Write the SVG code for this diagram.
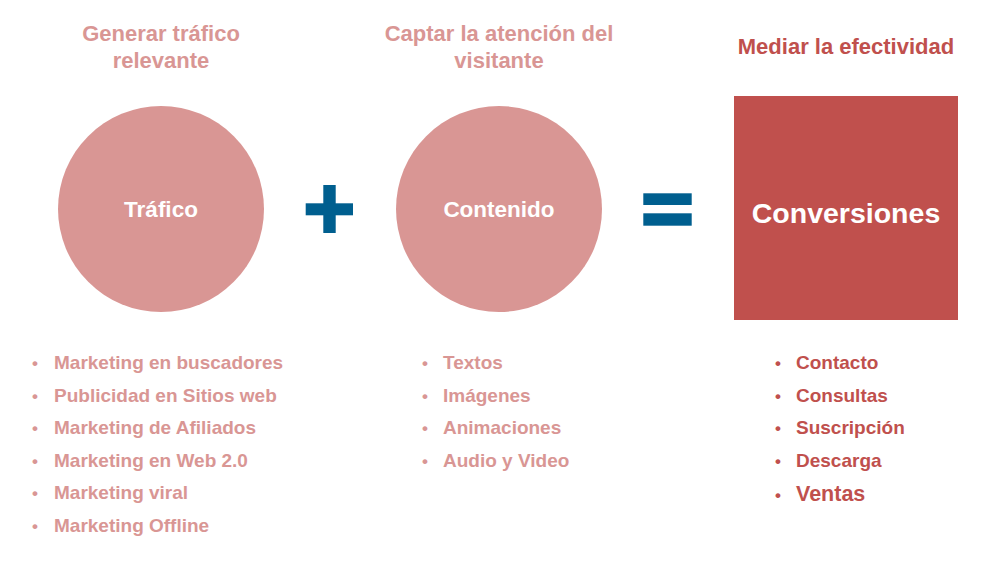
<svg xmlns="http://www.w3.org/2000/svg" width="1006" height="564" viewBox="0 0 1006 564">
<style>
text{font-family:"Liberation Sans",Arial,sans-serif;font-weight:bold}
.pk{fill:#D99694}
.rd{fill:#C0504D}
.hd{font-size:22px;text-anchor:middle}
.li{font-size:19px}
.bl{font-size:17px}
.op{fill:#005F8F}
.wt{fill:#FFFFFF;text-anchor:middle}
</style>
<rect width="1006" height="564" fill="#FFFFFF"/>
<g id="head-trafico">
<text class="hd pk" x="161" y="41">Generar tráfico</text>
<text class="hd pk" x="161" y="68">relevante</text>
</g>
<g id="head-contenido">
<text class="hd pk" x="499" y="41">Captar la atención del</text>
<text class="hd pk" x="499" y="68">visitante</text>
</g>
<g id="head-conversiones">
<text class="hd rd" x="846" y="54">Mediar la efectividad</text>
</g>
<g id="node-trafico">
<circle cx="161" cy="209" r="103" fill="#D99694"/>
<text class="wt" x="161" y="217" font-size="22.5">Tráfico</text>
</g>
<g id="op-plus">
<rect class="op" x="323.3" y="185" width="12.4" height="48"/>
<rect class="op" x="305.7" y="203.3" width="47.3" height="12"/>
</g>
<g id="node-contenido">
<circle cx="499" cy="209" r="103" fill="#D99694"/>
<text class="wt" x="499" y="217" font-size="22.5">Contenido</text>
</g>
<g id="op-equals">
<rect class="op" x="643.3" y="193.3" width="48.4" height="11.7"/>
<rect class="op" x="643.3" y="213.3" width="48.4" height="12.4"/>
</g>
<g id="node-conversiones">
<rect x="734" y="96" width="224" height="224" fill="#C0504D"/>
<text class="wt" x="846" y="223" font-size="28.5">Conversiones</text>
</g>
<g id="list-trafico" class="pk">
<text class="li" x="32" y="369"><tspan class="bl">•</tspan><tspan x="54">Marketing en buscadores</tspan></text>
<text class="li" x="32" y="401.5"><tspan class="bl">•</tspan><tspan x="54">Publicidad en Sitios web</tspan></text>
<text class="li" x="32" y="434"><tspan class="bl">•</tspan><tspan x="54">Marketing de Afiliados</tspan></text>
<text class="li" x="32" y="466.5"><tspan class="bl">•</tspan><tspan x="54">Marketing en Web 2.0</tspan></text>
<text class="li" x="32" y="499"><tspan class="bl">•</tspan><tspan x="54">Marketing viral</tspan></text>
<text class="li" x="32" y="531.5"><tspan class="bl">•</tspan><tspan x="54">Marketing Offline</tspan></text>
</g>
<g id="list-contenido" class="pk">
<text class="li" x="422" y="369"><tspan class="bl">•</tspan><tspan x="443">Textos</tspan></text>
<text class="li" x="422" y="401.5"><tspan class="bl">•</tspan><tspan x="443">Imágenes</tspan></text>
<text class="li" x="422" y="434"><tspan class="bl">•</tspan><tspan x="443">Animaciones</tspan></text>
<text class="li" x="422" y="466.5"><tspan class="bl">•</tspan><tspan x="443">Audio y Video</tspan></text>
</g>
<g id="list-conversiones" class="rd">
<text class="li" x="775" y="369"><tspan class="bl">•</tspan><tspan x="796">Contacto</tspan></text>
<text class="li" x="775" y="401.5"><tspan class="bl">•</tspan><tspan x="796">Consultas</tspan></text>
<text class="li" x="775" y="434"><tspan class="bl">•</tspan><tspan x="796">Suscripción</tspan></text>
<text class="li" x="775" y="466.5"><tspan class="bl">•</tspan><tspan x="796">Descarga</tspan></text>
<text x="775" y="501" font-size="21.5"><tspan class="bl">•</tspan><tspan x="796">Ventas</tspan></text>
</g>
</svg>
